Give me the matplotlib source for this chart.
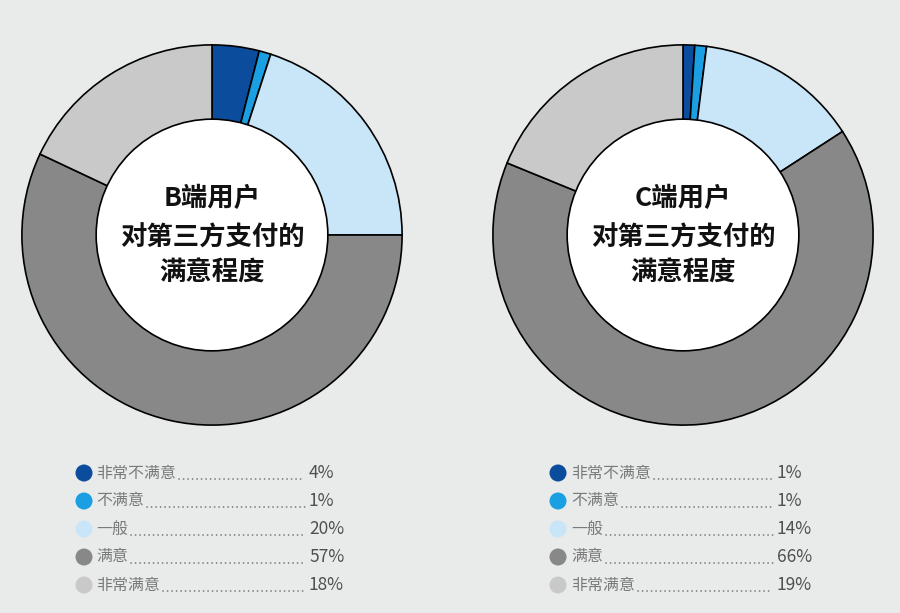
import matplotlib
matplotlib.use("Agg")
import matplotlib.pyplot as plt
from matplotlib.patches import Circle

plt.rcParams['font.family'] = ['Noto Sans CJK SC', 'DejaVu Sans']

categories = ["非常不满意", "不满意", "一般", "满意", "非常满意"]
b_values = [4, 1, 20, 57, 18]
c_values = [1, 1, 14, 66, 19]
b_labels = ["4%", "1%", "20%", "57%", "18%"]
c_labels = ["1%", "1%", "14%", "66%", "19%"]
titles = ["B端用户\n对第三方支付的\n满意程度", "C端用户\n对第三方支付的\n满意程度"]
colors = ["#0b4c9c", "#1a9fe2", "#c8e6f8", "#888888", "#c9c9c9"]
bg = "#e9eaea"

W, H = 900, 613
fig = plt.figure(figsize=(W / 100, H / 100), dpi=100, facecolor=bg)

R = 192
inner = 117
centers = [(212, 235), (683, 235)]

for (cx, cy), vals, title in zip(centers, [b_values, c_values], titles):
    ax = fig.add_axes([(cx - R) / W, (H - cy - R) / H, 2 * R / W, 2 * R / H])
    ax.set_facecolor("none")
    ax.pie(vals, colors=colors, startangle=90, counterclock=False, radius=1,
           wedgeprops=dict(edgecolor="black", linewidth=1.2))
    ax.add_patch(Circle((0, 0), inner / R, facecolor="white", edgecolor="black",
                        linewidth=1.2, zorder=5))
    ax.set_xlim(-1.01, 1.01)
    ax.set_ylim(-1.01, 1.01)
    ax.set_aspect("auto")
    ax.axis("off")
    lines = title.split("\n")
    offs = [37, -3, -39]
    for t, dy in zip(lines, offs):
        ax.text(0, dy / R, t, ha="center", va="center", fontsize=19,
                fontweight="bold", color="#111111", zorder=6)

ov = fig.add_axes([0, 0, 1, 1])
ov.set_xlim(0, W)
ov.set_ylim(H, 0)
ov.axis("off")
ov.set_facecolor("none")

rows_y = [473, 501, 529, 557, 585]
legend_cfg = [
    dict(mx=84, tx=96, lead_end=305, vx=309, labels=b_labels),
    dict(mx=558, tx=571, lead_end=773, vx=777, labels=c_labels),
]

txts = []
for cfg in legend_cfg:
    for i, (cat, y) in enumerate(zip(categories, rows_y)):
        ov.scatter([cfg["mx"]], [y], s=150, color=colors[i], edgecolors="none", zorder=3)
        t = ov.text(cfg["tx"], y, cat, ha="left", va="center", fontsize=11.5,
                    color="#7a7a7a")
        ov.text(cfg["vx"], y, cfg["labels"][i], ha="left", va="center",
                fontsize=12.5, color="#505050")
        txts.append((t, cfg["lead_end"], y))

fig.canvas.draw()
inv = ov.transData.inverted()
for t, end, y in txts:
    bb = t.get_window_extent()
    x0 = inv.transform((bb.x1, bb.y0))[0] + 3
    ov.plot([x0, end], [y + 6, y + 6], color="#777777", lw=1.2,
            ls=(0, (0.1, 2.6)), dash_capstyle="round", solid_capstyle="round")

fig.savefig("out.png", dpi=100, facecolor=bg)
